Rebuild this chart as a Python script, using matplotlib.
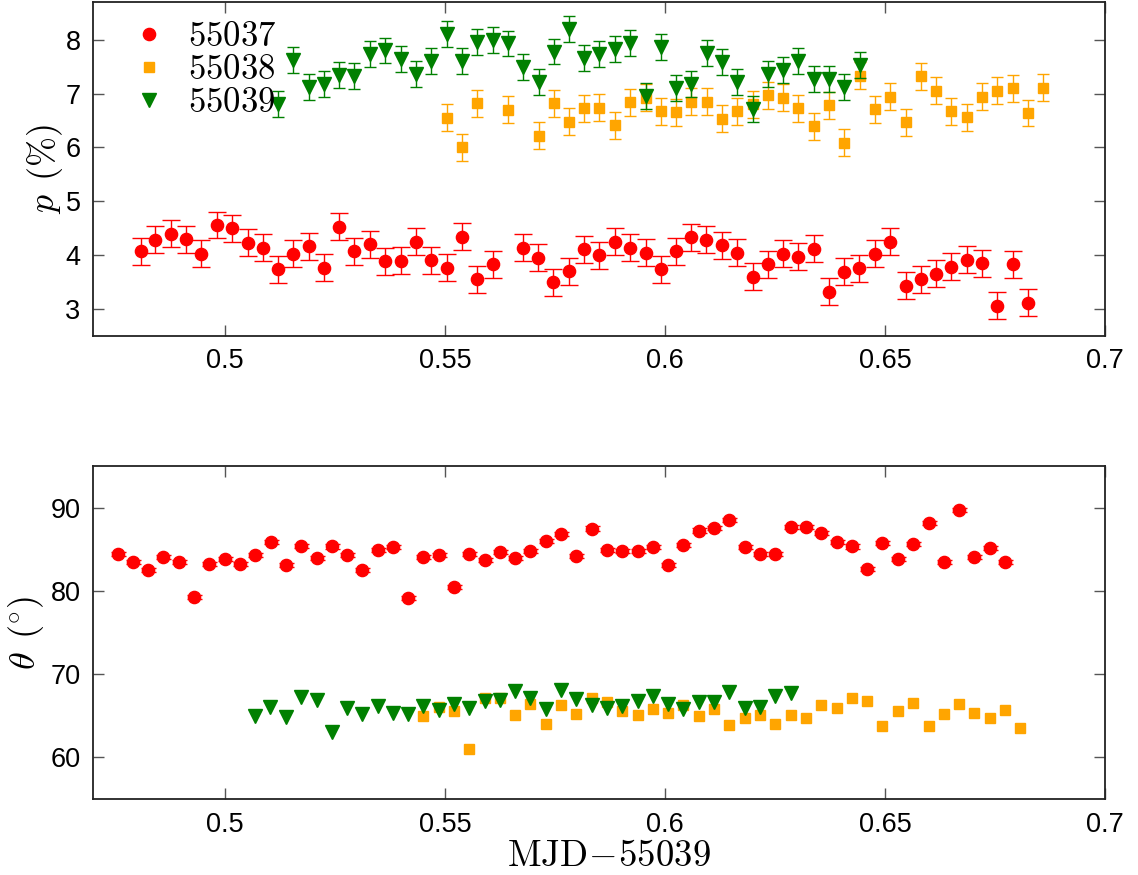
import matplotlib
matplotlib.use("Agg")
import matplotlib.pyplot as plt
from matplotlib.lines import Line2D

plt.rcParams['font.family'] = ['Liberation Sans', 'DejaVu Sans']
plt.rcParams['mathtext.fontset'] = 'cm'

labels = ['$55037$', '$55038$', '$55039$']
colors = ['red', 'orange', 'green']

# ---- polarisation degree p (%) ----
x_p_37 = [0.4809, 0.4842, 0.4877, 0.4912, 0.4946, 0.4981, 0.5016, 0.5052, 0.5086, 0.5121, 0.5155, 0.5190,
          0.5225, 0.5259, 0.5294, 0.5329, 0.5363, 0.5399, 0.5434, 0.5469, 0.5504, 0.5539, 0.5573, 0.5608,
          0.5677, 0.5712, 0.5746, 0.5781, 0.5817, 0.5851, 0.5886, 0.5921, 0.5956, 0.5990, 0.6025, 0.6060,
          0.6094, 0.6129, 0.6164, 0.6199, 0.6234, 0.6268, 0.6303, 0.6338, 0.6372, 0.6407, 0.6442, 0.6477,
          0.6512, 0.6547, 0.6582, 0.6616, 0.6651, 0.6686, 0.6720, 0.6755, 0.6790, 0.6825]
p_37 = [4.07, 4.29, 4.40, 4.30, 4.03, 4.56, 4.50, 4.23, 4.14, 3.74, 4.03, 4.17, 3.77, 4.53, 4.07, 4.20, 3.89,
        3.90, 4.25, 3.91, 3.77, 4.34, 3.55, 3.83,
        4.14, 3.95, 3.50, 3.70, 4.11, 4.00, 4.25, 4.14, 4.05, 3.74, 4.07, 4.33, 4.29, 4.18, 4.05, 3.60,
        3.83, 4.03, 3.97, 4.12, 3.32, 3.69, 3.76, 4.03, 4.25, 3.43, 3.55, 3.66, 3.79, 3.92, 3.85, 3.06, 3.83, 3.12]
pe_37 = 0.25

x_p_38 = [0.5504, 0.5539, 0.5573, 0.5643, 0.5713, 0.5747, 0.5782, 0.5817, 0.5851, 0.5886, 0.5921, 0.5956,
          0.5990, 0.6025, 0.6060, 0.6095, 0.6129, 0.6164, 0.6199, 0.6234, 0.6268, 0.6303, 0.6338, 0.6372,
          0.6407, 0.6443, 0.6477, 0.6512, 0.6547, 0.6582, 0.6617, 0.6651, 0.6686, 0.6720, 0.6755, 0.6790,
          0.6825, 0.6860]
p_38 = [6.55, 6.00, 6.82, 6.70, 6.22, 6.82, 6.48, 6.73, 6.74, 6.41, 6.84, 6.92, 6.67, 6.65, 6.85, 6.85, 6.53,
        6.67, 6.80, 6.97, 6.92, 6.73, 6.39, 6.78, 6.09, 7.33, 6.71, 6.94, 6.47, 7.32, 7.05, 6.67, 6.56, 6.94,
        7.05, 7.10, 6.64, 7.11]
pe_38 = 0.25

x_p_39 = [0.5121, 0.5155, 0.5190, 0.5225, 0.5260, 0.5294, 0.5329, 0.5364, 0.5399, 0.5434, 0.5469, 0.5504,
          0.5539, 0.5573, 0.5608, 0.5643, 0.5678, 0.5713, 0.5747, 0.5782, 0.5817, 0.5851, 0.5886, 0.5921,
          0.5956, 0.5990, 0.6025, 0.6060, 0.6095, 0.6129, 0.6164, 0.6199, 0.6234, 0.6268, 0.6303, 0.6338,
          0.6372, 0.6407, 0.6443]
p_39 = [6.80, 7.62, 7.12, 7.18, 7.34, 7.33, 7.74, 7.80, 7.64, 7.36, 7.61, 8.10, 7.61, 7.96, 7.99, 7.93, 7.49,
        7.21, 7.78, 8.20, 7.66, 7.73, 7.82, 7.94, 6.96, 7.86, 7.11, 7.17, 7.76, 7.59, 7.21, 6.71, 7.37, 7.43,
        7.60, 7.27, 7.27, 7.13, 7.53]
pe_39 = 0.24

# ---- polarisation angle theta (deg) ----
x_t_37 = [0.4756, 0.4791, 0.4826, 0.4860, 0.4895, 0.4930, 0.4964, 0.4999, 0.5034, 0.5069, 0.5104, 0.5138,
          0.5173, 0.5208, 0.5243, 0.5277, 0.5312, 0.5347, 0.5381, 0.5416, 0.5451, 0.5486, 0.5520, 0.5555,
          0.5590, 0.5624, 0.5659, 0.5694, 0.5729, 0.5764, 0.5798, 0.5833, 0.5868, 0.5903, 0.5938, 0.5973,
          0.6007, 0.6042, 0.6077, 0.6111, 0.6146, 0.6181, 0.6216, 0.6251, 0.6286, 0.6321, 0.6355, 0.6390,
          0.6425, 0.6459, 0.6494, 0.6529, 0.6564, 0.6599, 0.6634, 0.6669, 0.6703, 0.6738, 0.6773]
t_37 = [84.42, 83.43, 82.51, 84.06, 83.51, 79.25, 83.27, 83.87, 83.23, 84.27, 85.86, 83.07, 85.38, 83.95,
        85.34, 84.27, 82.51, 84.90, 85.22, 79.13, 84.03, 84.27, 80.44, 84.42, 83.75, 84.62, 83.91, 84.78,
        85.97, 86.81, 84.23, 87.49, 84.94, 84.74, 84.74, 85.26, 83.07, 85.54, 87.25, 87.57, 88.53, 85.26,
        84.47, 84.42, 87.69, 87.69, 86.98, 85.86, 85.34, 82.59, 85.78, 83.79, 85.66, 88.17, 83.51, 89.76,
        84.11, 85.14, 83.43]
te_37 = 0.25

x_t_38 = [0.5451, 0.5486, 0.5520, 0.5555, 0.5590, 0.5624, 0.5659, 0.5694, 0.5729, 0.5764, 0.5798, 0.5833,
          0.5868, 0.5903, 0.5938, 0.5973, 0.6007, 0.6042, 0.6077, 0.6111, 0.6146, 0.6181, 0.6216, 0.6251,
          0.6286, 0.6321, 0.6355, 0.6390, 0.6425, 0.6459, 0.6494, 0.6529, 0.6564, 0.6599, 0.6634, 0.6669,
          0.6703, 0.6738, 0.6773, 0.6807]
t_38 = [64.95, 66.07, 65.54, 61.05, 67.18, 67.10, 65.07, 66.43, 63.95, 66.26, 65.23, 67.10, 66.62, 65.54,
        65.07, 65.83, 65.35, 66.34, 65.03, 65.83, 63.91, 64.71, 65.07, 64.04, 65.15, 64.67, 66.31, 65.99,
        67.14, 66.78, 63.75, 65.63, 66.50, 63.71, 65.19, 66.38, 65.35, 64.71, 65.75, 63.51]

x_t_39 = [0.5068, 0.5103, 0.5138, 0.5173, 0.5208, 0.5243, 0.5277, 0.5312, 0.5347, 0.5381, 0.5416, 0.5451,
          0.5486, 0.5520, 0.5555, 0.5590, 0.5624, 0.5659, 0.5694, 0.5729, 0.5764, 0.5798, 0.5833, 0.5868,
          0.5903, 0.5938, 0.5973, 0.6007, 0.6042, 0.6077, 0.6111, 0.6146, 0.6181, 0.6216, 0.6251, 0.6286]
t_39 = [64.99, 66.01, 64.79, 67.26, 66.90, 63.10, 65.99, 65.19, 66.14, 65.35, 65.17, 66.19, 65.67, 66.46,
        65.95, 66.72, 66.94, 67.92, 67.08, 65.87, 68.05, 67.03, 66.34, 65.99, 66.14, 66.74, 67.34, 66.46,
        65.79, 66.60, 66.68, 67.87, 65.95, 66.07, 67.42, 67.70]

x_ticks = [0.5, 0.55, 0.6, 0.65, 0.7]
x_ticklabels = ['0.5', '0.55', '0.6', '0.65', '0.7']
p_ticks = [3, 4, 5, 6, 7, 8]
t_ticks = [60, 70, 80, 90]

W, H = 1138, 875
fig = plt.figure(figsize=(W / 100, H / 100), dpi=100)
ax1 = fig.add_axes([93 / W, 1 - 336 / H, 1012 / W, 334 / H])
ax2 = fig.add_axes([93 / W, 1 - 799 / H, 1012 / W, 333 / H])

msz = {'o': 8.8, 's': 7.9, 'v': 10.5}

# top panel
ax1.errorbar(x_p_37, p_37, yerr=pe_37, fmt='o', color='red', mec='red', ms=msz['o'],
             ecolor='red', elinewidth=1.0, capsize=6.3, capthick=1.0, zorder=3)
ax1.errorbar(x_p_38, p_38, yerr=pe_38, fmt='s', color='orange', mec='orange', ms=msz['s'],
             ecolor='orange', elinewidth=1.0, capsize=4.3, capthick=1.0, zorder=3)
ax1.errorbar(x_p_39, p_39, yerr=pe_39, fmt='v', color='green', mec='green', ms=msz['v'],
             ecolor='green', elinewidth=1.0, capsize=4.5, capthick=1.0, zorder=4)

# bottom panel
ax2.errorbar(x_t_37, t_37, yerr=te_37, fmt='o', color='red', mec='red', ms=msz['o'],
             ecolor='red', elinewidth=1.0, capsize=5.4, capthick=1.0, zorder=3)
ax2.plot(x_t_38, t_38, 's', color='orange', mec='orange', ms=msz['s'], zorder=3)
ax2.plot(x_t_39, t_39, 'v', color='green', mec='green', ms=msz['v'], zorder=4)

handles = [Line2D([], [], ls='none', marker=m, color=c, mec=c, ms=msz[m])
           for m, c in zip(['o', 's', 'v'], colors)]
ax1.legend(handles, labels, loc='upper left', bbox_to_anchor=(39 / 1012, 1 - 18 / 334),
           frameon=False, fontsize=25, handlelength=1.0, handletextpad=0.62,
           borderpad=0, borderaxespad=0, labelspacing=0.0, numpoints=1)

for ax in (ax1, ax2):
    ax.set_xlim(0.47, 0.7)
    ax.set_xticks(x_ticks)
    ax.set_xticklabels(x_ticklabels)
    ax.tick_params(direction='in', top=True, right=True, length=8, width=1.0,
                   color='#555555', labelsize=19.5, pad=9)
    for s in ax.spines.values():
        s.set_linewidth(1.3)
        s.set_color('#222222')

ax1.set_ylim(2.5, 8.7)
ax1.set_yticks(p_ticks)
ax2.set_ylim(55, 95)
ax2.set_yticks(t_ticks)

ax1.set_ylabel(r'$p\;\,(\%)$', fontsize=26)
ax2.set_ylabel(r'$\theta\;\,(^{\circ})$', fontsize=26)
ax2.set_xlabel(r'$\mathrm{MJD}\!-\!55039$', fontsize=26.5)
ax1.yaxis.set_label_coords(-0.028, 0.5)
ax2.yaxis.set_label_coords(-0.046, 0.5)
ax2.xaxis.set_label_coords(0.51, -0.12)

fig.savefig('out.png', dpi=100)
